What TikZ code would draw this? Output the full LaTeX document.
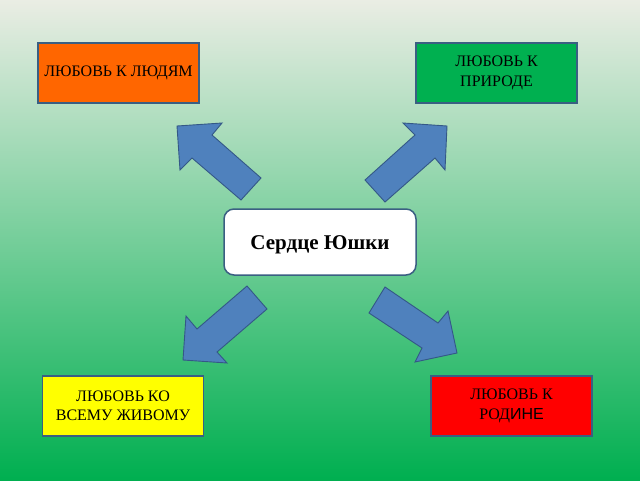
\documentclass[tikz,border=0pt]{standalone}
\usepackage{fontspec}
\setmainfont{Liberation Serif}
\newfontfamily\sansf{Liberation Sans}
\definecolor{bgtop}{RGB}{234,237,228}
\definecolor{bgbot}{RGB}{0,175,80}
\definecolor{boxline}{RGB}{58,95,130}
\definecolor{arrfill}{RGB}{79,129,189}
\definecolor{arrline}{RGB}{52,88,135}
\definecolor{orangebox}{RGB}{255,102,0}
\definecolor{greenbox}{RGB}{0,176,80}
\definecolor{yellowbox}{RGB}{255,255,0}
\definecolor{redbox}{RGB}{255,0,0}
\tikzset{
  topic/.style={draw=boxline, line width=1.3pt, minimum width=161pt, minimum height=60pt,
    inner sep=2pt, align=center, font=\fontsize{16}{19.5}\selectfont, text=black},
  hub/.style={draw=boxline, line width=1.5pt, fill=white, rounded corners=10pt,
    minimum width=192pt, minimum height=66pt, font=\bfseries\fontsize{21}{24}\selectfont}
  ,
  blockarrow/.style={fill=arrfill, draw=arrline, line width=0.9pt, line join=miter}
}
\begin{document}
\begin{tikzpicture}[x=1pt, y=-1pt]
\useasboundingbox (0,0) rectangle (640,480);
\shade[top color=bgtop, bottom color=bgbot] (0,0) rectangle (640,480);

\node[topic, fill=orangebox] (people) at (118.5,73) {ЛЮБОВЬ К ЛЮДЯМ};
\node[topic, fill=greenbox] (nature) at (496.5,73) {ЛЮБОВЬ К\\ПРИРОДЕ};
\node[topic, fill=yellowbox] (alive) at (123,406) {ЛЮБОВЬ КО\\ВСЕМУ ЖИВОМУ};
\node[topic, fill=redbox] (home) at (511.5,406) {ЛЮБОВЬ К\\РОД{\sansf ИНЕ}};
\node[hub] (heart) at (320,242) {};
\node[font=\bfseries\fontsize{21}{24}\selectfont] (hubtext) at (320,245) {Сердце Юшки};

% block arrows
\draw[blockarrow] (177,126) -- (222,123) -- (212,135) -- (261,178) -- (241,200)
  -- (192,158) -- (180,170) -- cycle;
\draw[blockarrow] (447,126) -- (445,170) -- (435,158) -- (385,202) -- (365,180)
  -- (415,135) -- (403,123) -- cycle;
\draw[blockarrow] (183,360) -- (186,316) -- (197,329) -- (247,286) -- (267,309)
  -- (217,352) -- (227,363) -- cycle;
\draw[blockarrow] (457,353) -- (415,362) -- (422,348) -- (369,313) -- (385,287)
  -- (438,323) -- (448,311) -- cycle;
\end{tikzpicture}
\end{document}
